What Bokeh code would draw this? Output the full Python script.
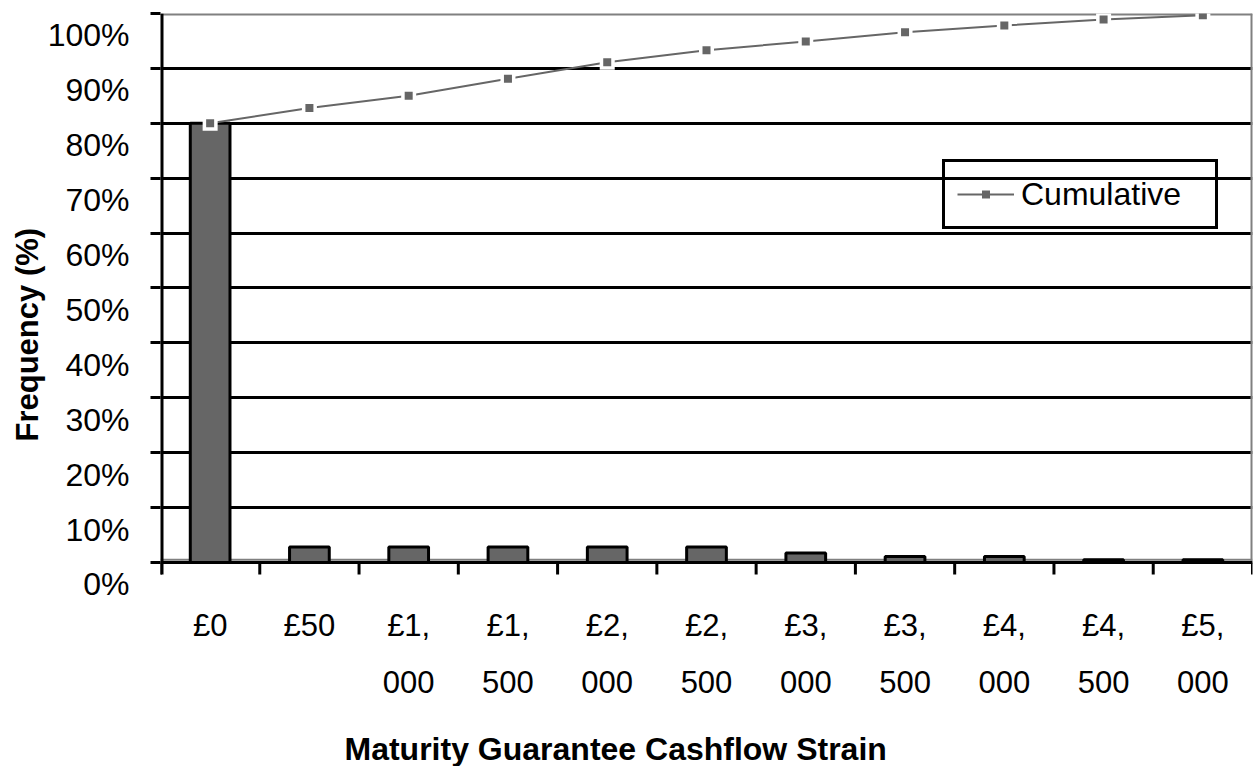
from bokeh.plotting import figure
from bokeh.models import (Range1d, LinearAxis, FixedTicker, Grid, Legend, LegendItem, Title)
from bokeh.embed import file_html
from bokeh.resources import INLINE

# ---- data ----
categories = ["£0", "£50", "£1,000", "£1,500", "£2,000", "£2,500",
              "£3,000", "£3,500", "£4,000", "£4,500", "£5,000"]
frequency = [80.0, 2.8, 2.8, 2.8, 2.8, 2.8, 1.7, 1.1, 1.1, 0.5, 0.5]
cumulative = [80.0, 82.8, 85.0, 88.1, 91.1, 93.3, 94.9, 96.6, 97.8, 98.9, 99.7]
y_ticks = [0, 10, 20, 30, 40, 50, 60, 70, 80, 90, 100]
y_tick_labels = [f"{t}%" for t in y_ticks]
x_title = "Maturity Guarantee Cashflow Strain"
y_title = "Frequency (%)"
series_name = "Cumulative"

FONT = "Liberation Sans"
PX_PER_PCT = 5.5          # vertical scale of the reference, px per 1 %
LABEL_DROP = 4.0          # y tick labels sit ~22 px below their gridline
TICK_LEN = 12 / PX_PER_PCT
Y_MIN = -4.2

n = len(categories)
centers = [i + 0.5 for i in range(n)]
bounds = list(range(n + 1))
row1 = [c.split(",")[0] + "," if "," in c else c for c in categories]
row2 = [c.split(",")[1] if "," in c else "" for c in categories]

p = figure(width=1255, height=766, x_range=Range1d(0, n), y_range=Range1d(Y_MIN, 100),
           x_axis_type=None, y_axis_type=None,
           output_backend="svg", toolbar_location=None,
           min_border_left=160, min_border_right=3, min_border_top=13, min_border_bottom=180)
p.background_fill_color = "white"
p.border_fill_color = "white"
p.outline_line_color = None

# y axis A: tick marks at gridlines
yaxA = LinearAxis(ticker=FixedTicker(ticks=y_ticks))
yaxA.axis_line_color = None
yaxA.major_tick_line_color = "black"
yaxA.major_tick_line_width = 3
yaxA.major_tick_out = 10
yaxA.major_tick_in = 0
yaxA.minor_tick_line_color = None
yaxA.major_label_overrides = {t: "" for t in y_ticks}
yaxA.major_label_text_font_size = "1px"
yaxA.major_label_standoff = 0
p.add_layout(yaxA, "left")

# y axis B: the percentage labels, hanging below each gridline as in the reference
lab_pos = [t - LABEL_DROP for t in y_ticks]
yaxB = LinearAxis(ticker=FixedTicker(ticks=lab_pos))
yaxB.axis_line_color = None
yaxB.major_tick_line_color = None
yaxB.minor_tick_line_color = None
yaxB.major_tick_out = 0
yaxB.major_tick_in = 0
yaxB.major_label_overrides = {lp: s for lp, s in zip(lab_pos, y_tick_labels)}
yaxB.major_label_text_font = FONT
yaxB.major_label_text_font_size = "32px"
yaxB.major_label_text_color = "black"
yaxB.major_label_standoff = 21
p.add_layout(yaxB, "left")

# gridlines
grid = Grid(dimension=1, ticker=FixedTicker(ticks=y_ticks[1:-1]))
grid.grid_line_color = "black"
grid.grid_line_width = 3
p.add_layout(grid)

# plot-area border (grey) and axis lines / category boundary ticks (black)
p.segment(x0=[0], y0=[100], x1=[n], y1=[100], line_color="#808080", line_width=4)
p.segment(x0=[n], y0=[0], x1=[n], y1=[100], line_color="#808080", line_width=4)
p.segment(x0=[0], y0=[0.5], x1=[n], y1=[0.5], line_color="#808080", line_width=2)
p.segment(x0=[0], y0=[0], x1=[n], y1=[0], line_color="black", line_width=3)
p.segment(x0=[0], y0=[-TICK_LEN], x1=[0], y1=[100], line_color="black", line_width=6)
p.segment(x0=bounds, y0=[0] * len(bounds), x1=bounds, y1=[-TICK_LEN] * len(bounds),
          line_color="black", line_width=3)

# x axis row 1
xaxis1 = LinearAxis(ticker=FixedTicker(ticks=centers))
xaxis1.axis_line_color = None
xaxis1.major_tick_line_color = None
xaxis1.minor_tick_line_color = None
xaxis1.major_tick_out = 0
xaxis1.major_tick_in = 0
xaxis1.major_label_overrides = {c: t for c, t in zip(centers, row1)}
xaxis1.major_label_text_font = FONT
xaxis1.major_label_text_font_size = "31px"
xaxis1.major_label_text_color = "black"
xaxis1.major_label_standoff = 22
p.add_layout(xaxis1, "below")

# x axis row 2
xaxis2 = LinearAxis(ticker=FixedTicker(ticks=centers))
xaxis2.axis_line_color = None
xaxis2.major_tick_line_color = None
xaxis2.minor_tick_line_color = None
xaxis2.major_tick_out = 0
xaxis2.major_tick_in = 0
xaxis2.major_label_overrides = {c: t for c, t in zip(centers, row2)}
xaxis2.major_label_text_font = FONT
xaxis2.major_label_text_font_size = "31px"
xaxis2.major_label_text_color = "black"
xaxis2.major_label_standoff = 25
xaxis2.axis_label = " "
xaxis2.axis_label_text_font_size = "1px"
xaxis2.axis_label_standoff = 29
p.add_layout(xaxis2, "below")

# axis titles
p.add_layout(Title(text=x_title, align="left", offset=184, standoff=0,
                   text_font=FONT, text_font_style="bold", text_font_size="32px",
                   text_color="black"), "below")
p.add_layout(Title(text=y_title, align="left", offset=144, standoff=0,
                   text_font=FONT, text_font_style="bold", text_font_size="31px",
                   text_color="black"), "left")

# bars
p.vbar(x=centers, top=frequency, bottom=0, width=0.4,
       fill_color="#666666", line_color="black", line_width=3)

# cumulative line
ln = p.line(centers, cumulative, line_color="#666666", line_width=2)
halo = p.scatter(centers, cumulative, marker="square", size=15,
                 fill_color="white", line_color=None)
sq = p.scatter(centers, cumulative, marker="square", size=8,
               fill_color="#666666", line_color=None)

legend = Legend(items=[LegendItem(label=series_name, renderers=[ln, halo, sq])],
                location=(782, 356))
legend.border_line_color = "black"
legend.border_line_alpha = 1.0
legend.border_line_width = 3
legend.background_fill_alpha = 0
legend.padding = 12
legend.margin = 0
legend.spacing = 0
legend.glyph_width = 57
legend.glyph_height = 20
legend.label_standoff = 7
legend.label_width = 182
legend.label_height = 40
legend.label_text_font = FONT
legend.label_text_font_size = "32px"
legend.label_text_color = "black"
p.add_layout(legend)

open("out.html", "w").write(file_html(p, INLINE))
